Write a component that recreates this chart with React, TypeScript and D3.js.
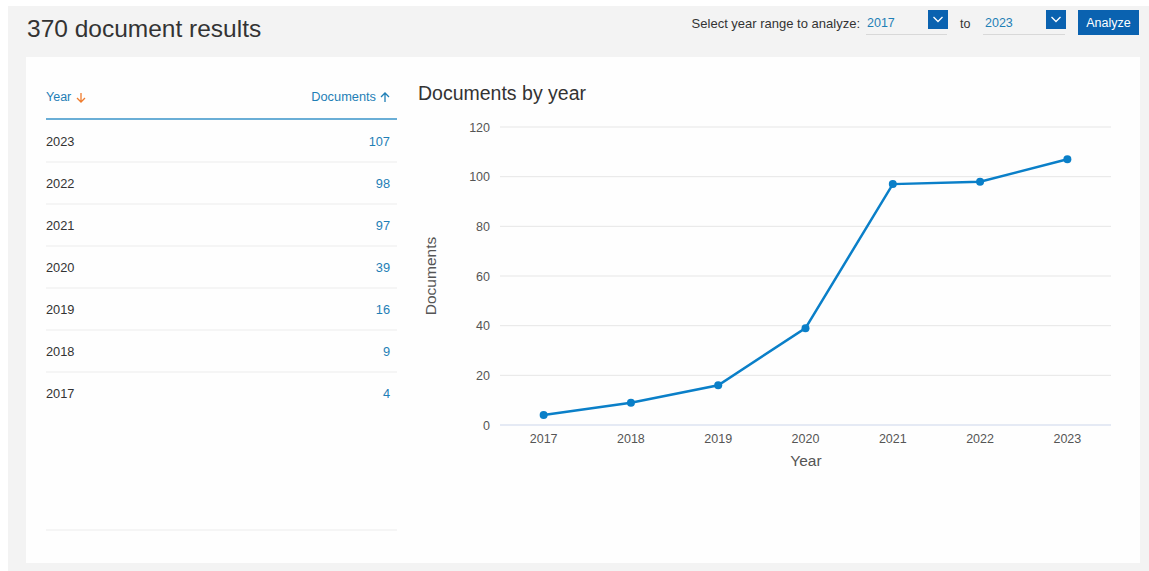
import React from "react";
import * as d3 from "d3";

const years = ["2017", "2018", "2019", "2020", "2021", "2022", "2023"];
const documents = [4, 9, 16, 39, 97, 98, 107];
const yTicks = [0, 20, 40, 60, 80, 100, 120];
const tableYears = ["2023", "2022", "2021", "2020", "2019", "2018", "2017"];
const tableDocs = [107, 98, 97, 39, 16, 9, 4];

const W = 1149;
const H = 571;
const FONT = "'Liberation Sans', Arial, Helvetica, sans-serif";
const BLUE = "#0a7fc8";

export default function App() {
  const x = d3.scaleBand<string>().domain(years).range([500, 1111]);
  const y = d3.scaleLinear().domain([0, 120]).range([425, 127]);
  const line = d3
    .line<number>()
    .x((_, i) => (x(years[i]) as number) + x.bandwidth() / 2)
    .y((d) => y(d));

  const rowY = d3.scaleLinear().domain([0, 1]).range([141, 183]);

  return (
    <svg
      width={W}
      height={H}
      style={{ position: "absolute", left: 0, top: 0, fontFamily: FONT }}
    >
      <rect x={0} y={0} width={W} height={H} fill="#ffffff" />
      <rect x={8} y={6} width={W - 8} height={H - 6} fill="#f3f3f3" />
      <rect x={26} y={57} width={1114} height={506} fill="#fefefe" />

      {/* header */}
      <text x={27} y={37} fontSize={24.5} fill="#333">
        370 document results
      </text>
      <text x={860} y={28} fontSize={13} fill="#333" textAnchor="end">
        Select year range to analyze:
      </text>
      <text x={867} y={27} fontSize={12.5} fill="#1f7fb6">2017</text>
      <line x1={866} x2={947} y1={34.5} y2={34.5} stroke="#d8d8d8" />
      <rect x={928} y={10} width={20} height={19} fill="#0a62b0" />
      <path d="M933.5,17 L938,21.5 L942.5,17" fill="none" stroke="#fff" strokeWidth={1.3} />
      <text x={960} y={28} fontSize={12.5} fill="#333">to</text>
      <text x={985} y={27} fontSize={12.5} fill="#1f7fb6">2023</text>
      <line x1={983} x2={1065} y1={34.5} y2={34.5} stroke="#d8d8d8" />
      <rect x={1046} y={10} width={20} height={19} fill="#0a62b0" />
      <path d="M1051.5,17 L1056,21.5 L1060.5,17" fill="none" stroke="#fff" strokeWidth={1.3} />
      <rect x={1078} y={10} width={61} height={25} fill="#0a62b0" />
      <text x={1108.5} y={27} fontSize={12.5} fill="#fff" textAnchor="middle">
        Analyze
      </text>

      {/* table */}
      <text x={46} y={101} fontSize={12.5} fill="#1f7fb6">Year</text>
      <path d="M81,93 L81,102 M77,98 L81,102 L85,98" fill="none" stroke="#f07c2d" strokeWidth={1.3} />
      <text x={376} y={101} fontSize={12.8} fill="#1f7fb6" textAnchor="end">
        Documents
      </text>
      <path d="M385,102 L385,93 M381,97 L385,93 L389,97" fill="none" stroke="#1f7fb6" strokeWidth={1.3} />
      <line x1={46} x2={397} y1={119} y2={119} stroke="#6aaed6" strokeWidth={2} />
      {tableYears.map((yr, i) => (
        <g key={yr}>
          <text x={46} y={rowY(i) + 4.5} fontSize={12.8} fill="#333">{yr}</text>
          <text x={390} y={rowY(i) + 4.5} fontSize={12.8} fill="#1f7fb6" textAnchor="end">
            {tableDocs[i]}
          </text>
          {i < tableYears.length - 1 && (
            <line x1={46} x2={397} y1={rowY(i) + 21} y2={rowY(i) + 21} stroke="#ececec" />
          )}
        </g>
      ))}
      <line x1={46} x2={397} y1={530} y2={530} stroke="#ececec" />

      {/* chart */}
      <text x={418} y={100} fontSize={19.5} fill="#333">Documents by year</text>
      {yTicks.map((t) => (
        <g key={t}>
          <line
            x1={500}
            x2={1111}
            y1={y(t)}
            y2={y(t)}
            stroke={t === 0 ? "#ccd6eb" : "#e6e6e6"}
            strokeWidth={1}
          />
          <text x={490} y={y(t) + 4.5} fontSize={12.5} fill="#555" textAnchor="end">
            {t}
          </text>
        </g>
      ))}
      {years.map((yr) => (
        <text
          key={yr}
          x={(x(yr) as number) + x.bandwidth() / 2}
          y={443}
          fontSize={12.5}
          fill="#555"
          textAnchor="middle"
        >
          {yr}
        </text>
      ))}
      <text x={806} y={466} fontSize={15.5} fill="#555" textAnchor="middle">Year</text>
      <text
        transform={`translate(436,${(y(0) + y(120)) / 2}) rotate(-90)`}
        fontSize={15.5}
        fill="#555"
        textAnchor="middle"
      >
        Documents
      </text>
      <path d={line(documents) || ""} fill="none" stroke={BLUE} strokeWidth={2.5} />
      {documents.map((d, i) => (
        <circle
          key={i}
          cx={(x(years[i]) as number) + x.bandwidth() / 2}
          cy={y(d)}
          r={4}
          fill={BLUE}
        />
      ))}
    </svg>
  );
}
